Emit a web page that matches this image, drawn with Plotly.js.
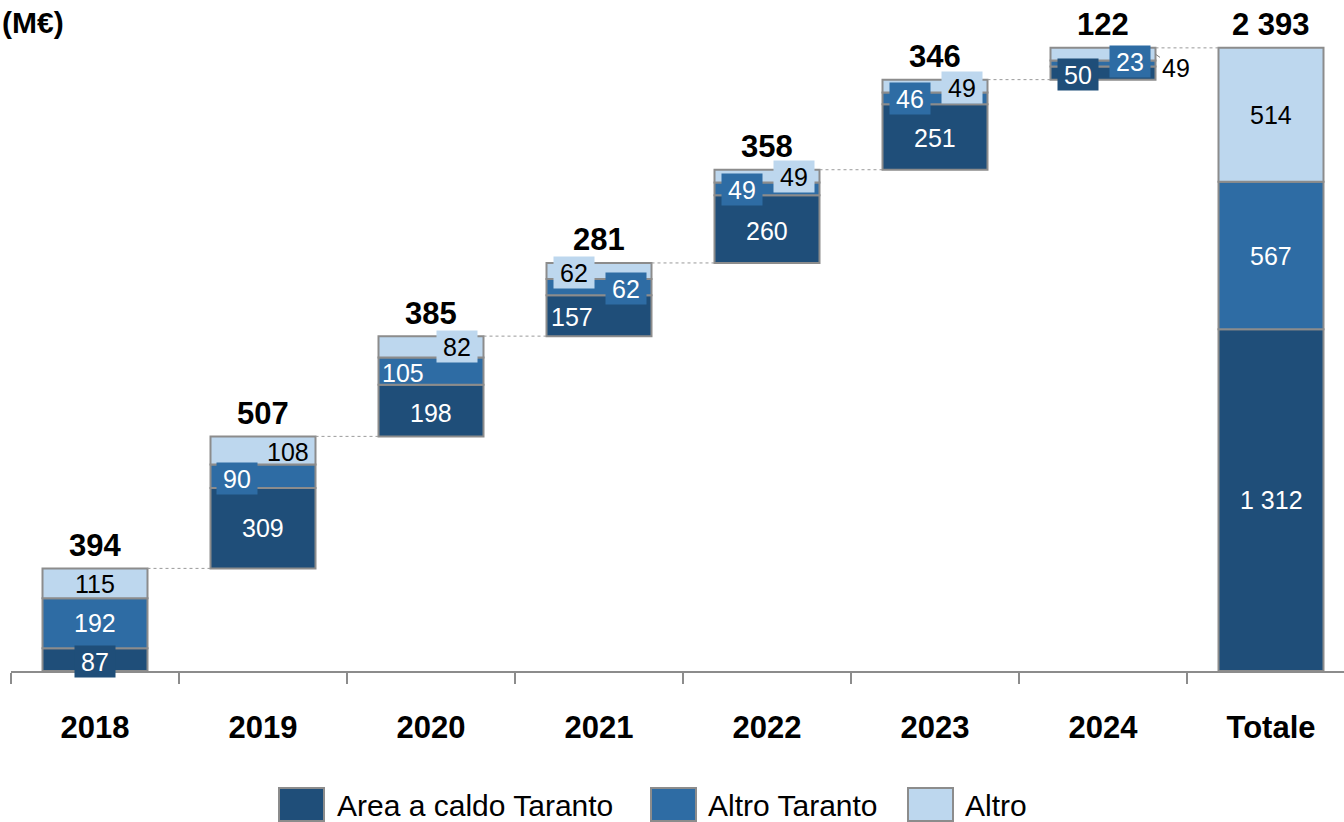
<!DOCTYPE html>
<html>
<head>
<meta charset="utf-8">
<script src="https://cdn.plot.ly/plotly-3.0.1.min.js"></script>
<style>
  html, body { margin: 0; padding: 0; background: #ffffff; }
  #chart { width: 1344px; height: 822px; }
</style>
</head>
<body>
<div id="chart"></div>
<script>
// ---------------- DATA ----------------
const categories = ['2018', '2019', '2020', '2021', '2022', '2023', '2024', 'Totale'];
const seriesNames = ['Area a caldo Taranto', 'Altro Taranto', 'Altro'];
const areaCaldoTaranto = [87, 309, 198, 157, 260, 251, 50];
const altroTaranto = [192, 90, 105, 62, 49, 46, 23];
const altro = [115, 108, 82, 62, 49, 49, 49];
const unitLabel = '(M€)';

// ---------------- STYLE ----------------
const FONT = 'Liberation Sans, Arial, Helvetica, sans-serif';
const colors = ['#1F4E79', '#2E6CA4', '#BDD7EE'];
const textColors = ['#ffffff', '#ffffff', '#000000'];
const outline = '#8c8c8c';
const W = 1344, H = 822, ML = 11, MR = 0, MT = 20, MB = 151;
const plotW = W - ML - MR, plotH = H - MT - MB;
const barWidth = 0.625;
const yMax = 2500;
const xMax = -0.5 + plotW / 168;
// per-label horizontal/vertical offsets in px (style only)
const labelShiftX = [
  [0, 0, 0, -27, 0, 0, -25],
  [0, -26, -28, 27, -25, -25, 27],
  [0, 25, 26, -25, 27, 27, 0]
];
const labelShiftY = [
  [-2, 0, -2, -1, -2, -1, -1],
  [0, -2, -2, -1, -1, 0, 2],
  [-1, -2, 0, -1, 0, -1, 0]
];
const outsideLabel = [[], [], [6]]; // indices drawn outside the bar with a leader line

// ---------------- BUILD ----------------
const series = [areaCaldoTaranto, altroTaranto, altro];
const nYears = areaCaldoTaranto.length;
const yearTotals = areaCaldoTaranto.map((v, i) => series.reduce((a, s) => a + s[i], 0));
const seriesTotals = series.map(s => s.reduce((a, b) => a + b, 0));
const grandTotal = seriesTotals.reduce((a, b) => a + b, 0);
const starts = [];
let run = 0;
yearTotals.forEach(t => { starts.push(run); run += t; });
const tops = yearTotals.map((t, i) => starts[i] + t);

function fmt(v) {
  return String(v).replace(/\B(?=(\d{3})+(?!\d))/g, ' ');
}
// category axis: annotations/shapes use the category serial number
const catIndex = c => categories.indexOf(c);

const traces = [];
const annotations = [];
series.forEach((s, k) => {
  const vals = s.concat([seriesTotals[k]]);
  const bases = vals.map((v, i) => {
    if (i < nYears) {
      let b = starts[i];
      for (let j = 0; j < k; j++) b += series[j][i];
      return b;
    }
    let b = 0;
    for (let j = 0; j < k; j++) b += seriesTotals[j];
    return b;
  });
  traces.push({
    type: 'bar',
    name: seriesNames[k],
    x: categories,
    y: vals,
    base: bases,
    width: barWidth,
    marker: { color: colors[k], line: { color: outline, width: 2 } },
    hoverinfo: 'name+y',
    showlegend: false
  });
  vals.forEach((v, i) => {
    const center = bases[i] + v / 2;
    const txt = fmt(v);
    const xi = catIndex(categories[i]);
    if (i < nYears && outsideLabel[k].indexOf(i) >= 0) {
      annotations.push({
        x: xi + barWidth / 2, y: center, xref: 'x', yref: 'y',
        text: txt, showarrow: true, arrowhead: 0, arrowwidth: 1, arrowcolor: '#7f7f7f',
        ax: 20, ay: 14, standoff: 0,
        font: { family: FONT, size: 25, color: '#000' }
      });
      return;
    }
    const digits = String(v).length;
    const a = {
      x: xi, y: center, xref: 'x', yref: 'y',
      text: txt, showarrow: false,
      xshift: i < nYears ? labelShiftX[k][i] : 0,
      yshift: i < nYears ? labelShiftY[k][i] : 0,
      font: { family: FONT, size: 25, color: textColors[k] }
    };
    if (digits <= 2) {
      a.bgcolor = colors[k];
      a.borderpad = 1;
      a.width = 38;
      a.height = 29;
    }
    annotations.push(a);
  });
});

// Totals above the bars
const allTops = tops.concat([grandTotal]);
const allSums = yearTotals.concat([grandTotal]);
allTops.forEach((t, i) => {
  annotations.push({
    x: i, y: t, xref: 'x', yref: 'y',
    text: fmt(allSums[i]), showarrow: false, yanchor: 'middle', yshift: 23,
    font: { family: FONT, size: 31, color: '#000', weight: 'bold' }
  });
});

// Unit label
const pxX = px => (px - ML) / plotW;
const pxY = py => (H - MB - py) / plotH;
annotations.push({
  xref: 'paper', yref: 'paper', x: pxX(0), y: pxY(23), xanchor: 'left', yanchor: 'middle',
  text: unitLabel, showarrow: false,
  font: { family: FONT, size: 30, color: '#000', weight: 'bold' }
});

// Connector dotted lines
const shapes = [];
tops.forEach((y, i) => {
  shapes.push({
    type: 'line', xref: 'x', yref: 'y',
    x0: i + barWidth / 2, x1: i + 1 - barWidth / 2, y0: y, y1: y,
    line: { color: '#9a9a9a', width: 1, dash: 'dot' }
  });
});

// Custom legend (big swatches)
const legendSwatchX = [279, 651, 908];
const legendTextX = [337, 708, 965];
seriesNames.forEach((nm, k) => {
  shapes.push({
    type: 'rect', xref: 'paper', yref: 'paper',
    x0: pxX(legendSwatchX[k]), x1: pxX(legendSwatchX[k] + 45),
    y0: pxY(821), y1: pxY(788),
    fillcolor: colors[k], line: { color: outline, width: 2 }
  });
  annotations.push({
    xref: 'paper', yref: 'paper', x: pxX(legendTextX[k] - 2), y: pxY(806),
    xanchor: 'left', yanchor: 'middle', text: nm, showarrow: false,
    font: { family: FONT, size: 30, color: '#000' }
  });
});

const layout = {
  width: W, height: H,
  margin: { l: ML, r: MR, t: MT, b: MB, pad: 0 },
  paper_bgcolor: '#ffffff', plot_bgcolor: '#ffffff',
  barmode: 'overlay',
  showlegend: false,
  font: { family: FONT, color: '#000' },
  xaxis: {
    type: 'category', categoryorder: 'array', categoryarray: categories,
    range: [-0.5, xMax], fixedrange: true,
    showline: true, linecolor: outline, linewidth: 2,
    ticks: 'outside', tickson: 'boundaries', ticklen: 11, tickwidth: 2, tickcolor: outline,
    tickfont: { family: FONT, size: 31, color: '#000', weight: 'bold' },
    ticklabelstandoff: 28,
    showgrid: false, zeroline: false
  },
  yaxis: {
    range: [0, yMax], visible: false, showgrid: false, zeroline: false, fixedrange: true
  },
  annotations: annotations,
  shapes: shapes
};

Plotly.newPlot('chart', traces, layout, { staticPlot: true, displayModeBar: false });
</script>
</body>
</html>
